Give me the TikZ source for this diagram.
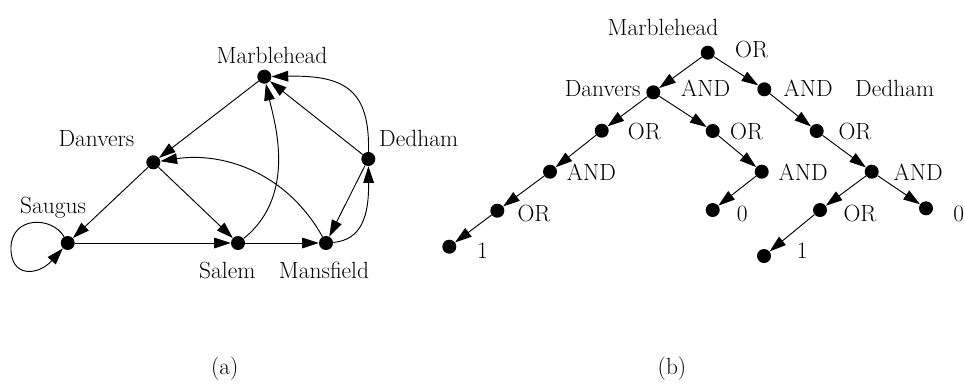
\documentclass[tikz,border=0pt]{standalone}
\usetikzlibrary{arrows.meta}
\begin{document}
\begin{tikzpicture}[x=0.03cm,y=-0.03cm,
  font=\fontsize{20}{24}\selectfont,
  dot/.style={circle,fill=black,inner sep=0pt,minimum size=0.42cm},
  lbl/.style={inner sep=0pt,anchor=base},
  lblw/.style={inner sep=0pt,anchor=base west},
  lble/.style={inner sep=0pt,anchor=base east},
  arr/.style={-{Triangle[length=0.5cm,width=0.32cm]},line width=0.8pt}]
\useasboundingbox (0,0) rectangle (964,383);

% ---------- (a) graph ----------
\node[dot] (mar) at (264.3,76.7) {};
\node[dot] (dan) at (153.3,162.3) {};
\node[dot] (sau) at (67.7,243) {};
\node[dot] (sal) at (238,243) {};
\node[dot] (man) at (326,243) {};
\node[dot] (ded) at (368.3,159) {};
\coordinate (lp) at (11,247);

\node[lbl] (lmar) at (272,63.3) {Marblehead};
\node[lbl] (ldan) at (96.5,146.7) {Danvers};
\node[lbl] (lsau) at (53,213.3) {Saugus};
\node[lbl] (lsal) at (227.3,278.3) {Salem};
\node[lbl] (lman) at (324,278.3) {Mansfield};
\node[lblw] (lded) at (379,146.7) {Dedham};

\draw[arr] (mar) -- (dan);
\draw[arr] (dan) -- (sau);
\draw[arr] (dan) -- (sal);
\draw[arr] (sau) -- (sal);
\draw[arr] (sal) -- (man);
\draw[arr] (ded) -- (mar);
\draw[arr] (ded) -- (man);
\draw[arr] (sal) .. controls (298,195) and (274,120) .. (mar);
\draw[arr] (ded) .. controls (370,90) and (345,75) .. (mar);
\draw[arr] (man) .. controls (285,170) and (220,152) .. (dan);
\draw[arr] (man) .. controls (362,240) and (369,215) .. (ded);
\draw[arr] (sau) .. controls (52,216) and (12,216) .. (lp)
  .. controls (10,278) and (38,276) .. (sau);

\node[lbl] (capa) at (224.7,374) {(a)};

% ---------- (b) tree ----------
\node[dot] (r) at (707.7,52.7) {};
\node[dot] (td) at (653.3,92.3) {};
\node[dot] (ta) at (764.3,89.3) {};
\node[dot] (o1) at (601.7,130.7) {};
\node[dot] (o2) at (712.7,131) {};
\node[dot] (o3) at (816.7,131) {};
\node[dot] (a1) at (550,171.7) {};
\node[dot] (a2) at (761.7,171.7) {};
\node[dot] (a3) at (871.7,171.7) {};
\node[dot] (p1) at (497.3,210.7) {};
\node[dot] (z1) at (712.7,210) {};
\node[dot] (p2) at (820,210) {};
\node[dot] (z2) at (926,208.3) {};
\node[dot] (e1) at (449.3,246.7) {};
\node[dot] (e2) at (764,256) {};

\node[lbl] (tmar) at (663,35) {Marblehead};
\node[lblw] (tor0) at (735,57.3) {OR};
\node[lble] (tdan) at (640.7,96.7) {Danvers};
\node[lblw] (tand1) at (681,96.7) {AND};
\node[lblw] (tand2) at (783.3,96.7) {AND};
\node[lblw] (tded) at (855,96.7) {Dedham};
\node[lblw] (tor1) at (627.7,139.3) {OR};
\node[lblw] (tor2) at (730,139.3) {OR};
\node[lblw] (tor3) at (838.3,139.3) {OR};
\node[lblw] (tand3) at (566.7,180) {AND};
\node[lblw] (tand4) at (778.3,180) {AND};
\node[lblw] (tand5) at (893.3,180) {AND};
\node[lblw] (tor4) at (517.3,221.7) {OR};
\node[lblw] (tz1) at (736.7,221.7) {0};
\node[lblw] (tor5) at (843.3,221.7) {OR};
\node[lblw] (tz2) at (953,221.7) {0};
\node[lblw] (te1) at (477,258.3) {1};
\node[lblw] (te2) at (796.7,258.3) {1};

\draw[arr] (r) -- (td);
\draw[arr] (r) -- (ta);
\draw[arr] (td) -- (o1);
\draw[arr] (td) -- (o2);
\draw[arr] (ta) -- (o3);
\draw[arr] (o1) -- (a1);
\draw[arr] (a1) -- (p1);
\draw[arr] (p1) -- (e1);
\draw[arr] (o2) -- (a2);
\draw[arr] (a2) -- (z1);
\draw[arr] (o3) -- (a3);
\draw[arr] (a3) -- (p2);
\draw[arr] (a3) -- (z2);
\draw[arr] (p2) -- (e2);

\node[lbl] (capb) at (672,374) {(b)};
\end{tikzpicture}
\end{document}
